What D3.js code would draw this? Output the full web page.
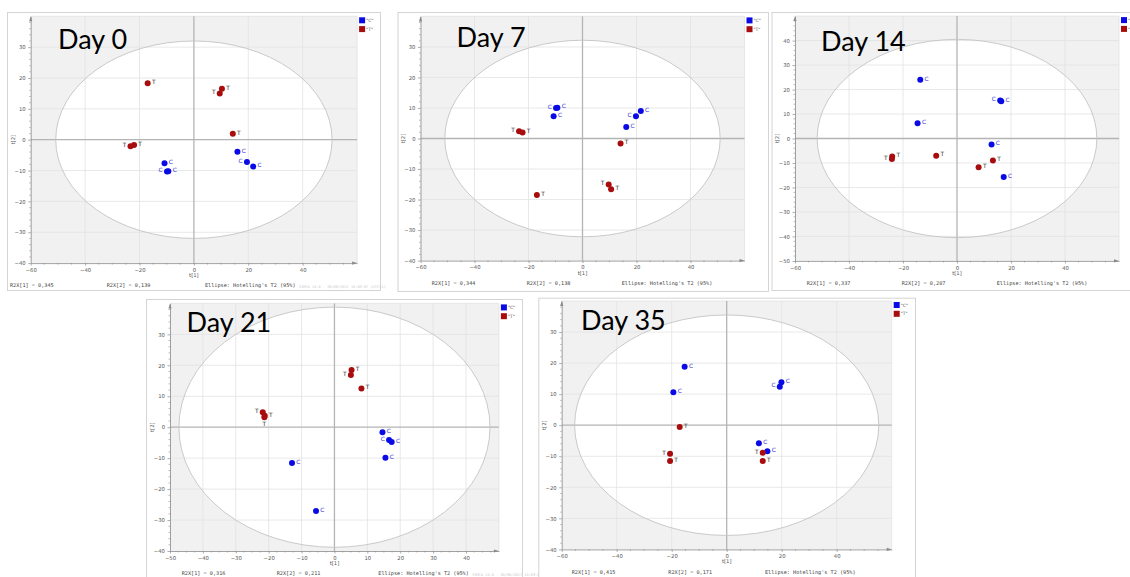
<!DOCTYPE html>
<html><head><meta charset="utf-8">
<script src="https://cdn.jsdelivr.net/npm/d3@7"></script>
<style>
body{margin:0;background:#fff}
svg{display:block}
</style>
</head><body>
<svg id="chart" width="1130" height="577"></svg>
<script>
// PCA score plots (t[1] vs t[2]) per sampling day, C = control, T = treatment
const days = ["Day 0", "Day 7", "Day 14", "Day 21", "Day 35"];
const r2x1 = ["0,345", "0,344", "0,337", "0,316", "0,415"];
const r2x2 = ["0,139", "0,138", "0,207", "0,211", "0,171"];
// Hotelling's T2 (95%) ellipse semi-axes along t[1] and t[2]
const ellipseT1 = [50.8, 51.0, 51.8, 47.3, 55.3];
const ellipseT2 = [32.0, 32.2, 40.5, 38.8, 35.5];
const groupNames = ["C", "T"];

const day0C = [[-10.8, -7.6], [-9.9, -10.3], [-9.4, -10.2], [16.0, -3.9], [19.5, -7.2], [21.8, -8.7]];
const day0T = [[-17.0, 18.3], [10.3, 16.5], [9.5, 15.0], [14.3, 1.9], [-23.3, -2.1], [-22.0, -1.7]];
const day7C = [[-9.8, 10.0], [-9.3, 10.1], [-10.7, 7.3], [21.6, 9.0], [19.8, 7.3], [16.2, 3.8]];
const day7T = [[-23.5, 2.4], [-22.2, 2.0], [14.1, -1.6], [9.7, -15.1], [10.6, -16.6], [-16.9, -18.5]];
const day14C = [[-13.6, 24.0], [16.0, 15.5], [16.4, 15.2], [-14.6, 6.2], [12.8, -2.4], [17.3, -15.7]];
const day14T = [[-24.0, -7.4], [-24.1, -8.4], [-7.7, -7.0], [13.3, -9.0], [8.0, -11.7]];
const day21C = [[14.6, -1.6], [16.6, -4.1], [17.4, -4.8], [15.5, -9.9], [-12.9, -11.6], [-5.6, -27.1]];
const day21T = [[5.2, 18.5], [5.0, 16.9], [8.2, 12.5], [-21.8, 4.8], [-21.2, 3.7], [-21.3, 3.2]];
const day35C = [[-15.3, 18.8], [19.9, 13.8], [19.3, 12.4], [-19.4, 10.6], [11.7, -5.8], [14.8, -8.4]];
const day35T = [[-17.1, -0.6], [-20.6, -9.2], [-20.6, -11.5], [13.1, -8.9], [13.1, -11.5]];

const scoresC = [day0C, day7C, day14C, day21C, day35C];
const scoresT = [day0T, day7T, day14T, day21T, day35T];

// Panel geometry (pixels) and label placement: r = right, l = left, b = below
const layout = [
  {frame: [7, 12, 380, 290], xd: [-60, 60], px: [30.7, 357.1], yd: [-40, 40], py: [263.1, 16.3], xStep: 20,
   title: [58, 48.7], foot: [10, 106.7, 205], footY: 285, stamp: true,
   sideC: "rlrrlr", sideT: "rrlrlr"},
  {frame: [397.5, 12, 768, 291], xd: [-60, 60], px: [420.5, 744.5], yd: [-40, 40], py: [260.6, 16.4], xStep: 20,
   title: [456.5, 47.3], foot: [431.7, 526.7, 621.7], footY: 283.3, stamp: false,
   sideC: "lrrrlr", sideT: "lrrlrr"},
  {frame: [771.5, 12, 1140, 290], xd: [-60, 60], px: [795, 1119], yd: [-50, 50], py: [260.9, 16.1], xStep: 20,
   title: [821, 50.7], foot: [806.7, 901.7, 996.7], footY: 283.3, stamp: false,
   sideC: "rlrrrr", sideT: "rlrrr"},
  {frame: [146, 299, 522, 590], xd: [-50, 50], px: [170, 498.9], yd: [-40, 40], py: [551, 303.4], xStep: 10,
   title: [186.5, 331.7], foot: [181.7, 276.7, 378.3], footY: 573.3, stamp: true,
   sideC: "rlrrrr", sideT: "rlrlrb"},
  {frame: [538.3, 297.7, 915, 590], xd: [-60, 60], px: [561.7, 891.7], yd: [-40, 40], py: [549.4, 301], xStep: 20,
   title: [581, 330], foot: [571.7, 668.3, 765], footY: 571.7, stamp: false,
   sideC: "rrlrrr", sideT: "rlrlr"}
];

const colC = "#0a0ae6", colT = "#a80c0c";
const svg = d3.select("#chart");
svg.append("rect").attr("width", 1130).attr("height", 577).attr("fill", "#fff");

layout.forEach((L, i) => {
  const g = svg.append("g");
  const x = d3.scaleLinear().domain(L.xd).range(L.px);
  const y = d3.scaleLinear().domain(L.yd).range(L.py);
  const left = L.px[0], right = L.px[1], top = L.py[1], bottom = L.py[0];

  // panel frame
  g.append("rect")
    .attr("x", L.frame[0] + 0.5).attr("y", L.frame[1] + 0.5)
    .attr("width", L.frame[2] - L.frame[0]).attr("height", L.frame[3] - L.frame[1])
    .attr("fill", "#fff").attr("stroke", "#d4d4d4").attr("stroke-width", 1);

  // plot background and confidence ellipse interior
  g.append("rect").attr("x", left).attr("y", top)
    .attr("width", right - left).attr("height", bottom - top).attr("fill", "#f1f1f1");
  const ell = {cx: x(0), cy: y(0), rx: x(ellipseT1[i]) - x(0), ry: y(0) - y(ellipseT2[i])};
  g.append("ellipse").attr("cx", ell.cx).attr("cy", ell.cy).attr("rx", ell.rx).attr("ry", ell.ry)
    .attr("fill", "#fff");

  // grid
  const xMajor = d3.range(L.xd[0], L.xd[1] + 1e-9, L.xStep);
  const yMajor = d3.range(L.yd[0], L.yd[1] + 1e-9, 10);
  g.append("g").selectAll("line").data(xMajor.filter(v => v !== 0 && v !== L.xd[0]))
    .join("line").attr("x1", d => x(d)).attr("x2", d => x(d)).attr("y1", top).attr("y2", bottom)
    .attr("stroke", "#e2e2e2").attr("stroke-width", 0.8);
  g.append("g").selectAll("line").data(yMajor.filter(v => v !== 0 && v !== L.yd[0]))
    .join("line").attr("y1", d => y(d)).attr("y2", d => y(d)).attr("x1", left).attr("x2", right)
    .attr("stroke", "#e2e2e2").attr("stroke-width", 0.8);

  // zero lines
  g.append("line").attr("x1", x(0)).attr("x2", x(0)).attr("y1", top).attr("y2", bottom)
    .attr("stroke", "#b4b4b4").attr("stroke-width", 1.3);
  g.append("line").attr("y1", y(0)).attr("y2", y(0)).attr("x1", left).attr("x2", right)
    .attr("stroke", "#b4b4b4").attr("stroke-width", 1.3);

  // ellipse outline
  g.append("ellipse").attr("cx", ell.cx).attr("cy", ell.cy).attr("rx", ell.rx).attr("ry", ell.ry)
    .attr("fill", "none").attr("stroke", "#c4c4c4").attr("stroke-width", 0.9);

  // axes
  const labeledX = xMajor.filter(v => v < L.xd[1]);
  const labeledY = yMajor.filter(v => v < L.yd[1]);
  const xMinor = d3.range(L.xd[0], L.xd[1] + 1e-9, L.xStep / 4).filter(v => !xMajor.includes(v));
  const yMinor = d3.range(L.yd[0], L.yd[1] + 1e-9, 2).filter(v => !yMajor.includes(v));

  const styleAxis = sel => {
    sel.select(".domain").attr("stroke", "#8a8a8a").attr("stroke-width", 0.8);
    sel.selectAll(".tick line").attr("stroke", "#8a8a8a").attr("stroke-width", 0.7);
    sel.selectAll(".tick text").attr("fill", "#555").attr("font-size", 5.3)
      .attr("font-family", "DejaVu Sans, sans-serif");
  };
  const gx = g.append("g").attr("transform", `translate(0,${bottom})`)
    .call(d3.axisBottom(x).tickValues(labeledX).tickSize(2.5).tickSizeOuter(0).tickPadding(2.5).tickFormat(d3.format("d")))
    .call(styleAxis);
  gx.append("g").selectAll("line").data(xMinor).join("line")
    .attr("x1", d => x(d)).attr("x2", d => x(d)).attr("y1", 0).attr("y2", 1.5)
    .attr("stroke", "#8a8a8a").attr("stroke-width", 0.6);
  const gy = g.append("g").attr("transform", `translate(${left},0)`)
    .call(d3.axisLeft(y).tickValues(labeledY).tickSize(2.5).tickSizeOuter(0).tickPadding(2.5).tickFormat(d3.format("d")))
    .call(styleAxis);
  gy.append("g").selectAll("line").data(yMinor).join("line")
    .attr("y1", d => y(d)).attr("y2", d => y(d)).attr("x1", 0).attr("x2", -1.5)
    .attr("stroke", "#8a8a8a").attr("stroke-width", 0.6);

  // axis arrow heads
  g.append("path").attr("d", `M${right},${bottom} l-5,-1.6 l0,3.2 Z`).attr("fill", "#8a8a8a");
  g.append("path").attr("d", `M${left},${top} l-1.6,5 l3.2,0 Z`).attr("fill", "#8a8a8a");

  // axis titles
  g.append("text").attr("x", x(0)).attr("y", bottom + 14).attr("text-anchor", "middle")
    .attr("font-size", 5.3).attr("fill", "#555").attr("font-family", "DejaVu Sans, sans-serif").text("t[1]");
  g.append("text").attr("transform", `translate(${left - 16},${y(0)}) rotate(-90)`).attr("text-anchor", "middle")
    .attr("font-size", 5.3).attr("fill", "#555").attr("font-family", "DejaVu Sans, sans-serif").text("t[2]");

  // scores
  const pts = [];
  scoresC[i].forEach((d, k) => pts.push({t1: d[0], t2: d[1], grp: 0, side: L.sideC[k]}));
  scoresT[i].forEach((d, k) => pts.push({t1: d[0], t2: d[1], grp: 1, side: L.sideT[k]}));
  g.append("g").selectAll("circle").data(pts).join("circle")
    .attr("cx", d => x(d.t1)).attr("cy", d => y(d.t2)).attr("r", 3)
    .attr("fill", d => d.grp === 0 ? colC : colT);
  g.append("g").selectAll("text").data(pts).join("text")
    .attr("x", d => d.side === "r" ? x(d.t1) + 4.3 : d.side === "l" ? x(d.t1) - 4.3 : x(d.t1))
    .attr("y", d => d.side === "b" ? y(d.t2) + 8.5 : y(d.t2) + 0.8)
    .attr("text-anchor", d => d.side === "r" ? "start" : d.side === "l" ? "end" : "middle")
    .attr("font-size", 5.8).attr("font-family", "DejaVu Sans, sans-serif")
    .attr("fill", d => d.grp === 0 ? "#3030d0" : "#333")
    .text(d => groupNames[d.grp]);

  // legend
  groupNames.forEach((n, k) => {
    g.append("rect").attr("x", right + 2).attr("y", top + 1 + k * 8.8).attr("width", 6).attr("height", 6)
      .attr("fill", k === 0 ? colC : colT);
    g.append("text").attr("x", right + 9).attr("y", top + 5.6 + k * 8.8)
      .attr("font-size", 4.5).attr("fill", "#555").attr("font-family", "DejaVu Sans, sans-serif")
      .text(`"${n}"`);
  });

  // footer statistics
  const mono = "DejaVu Sans Mono, Liberation Mono, monospace";
  [`R2X[1] = ${r2x1[i]}`, `R2X[2] = ${r2x2[i]}`, "Ellipse: Hotelling's T2 (95%)"].forEach((s, k) => {
    g.append("text").attr("x", L.foot[k]).attr("y", L.footY + 1.8)
      .attr("font-size", 5.2).attr("fill", "#444").attr("font-family", mono).text(s);
  });
  if (L.stamp) {
    g.append("text").attr("x", L.foot[2] + 94).attr("y", L.footY + 2.5)
      .attr("font-size", 3.6).attr("fill", "#c8c8c8").attr("font-family", mono)
      .text("SIMCA 15.0 - 20/06/2017 15:03:07 (UTC+1)");
  }

  // day title
  g.append("text").attr("x", L.title[0]).attr("y", L.title[1])
    .attr("font-size", 27).attr("font-family", "Lato, Open Sans, sans-serif").attr("fill", "#000")
    .text(days[i]);
});
</script>
</body></html>
